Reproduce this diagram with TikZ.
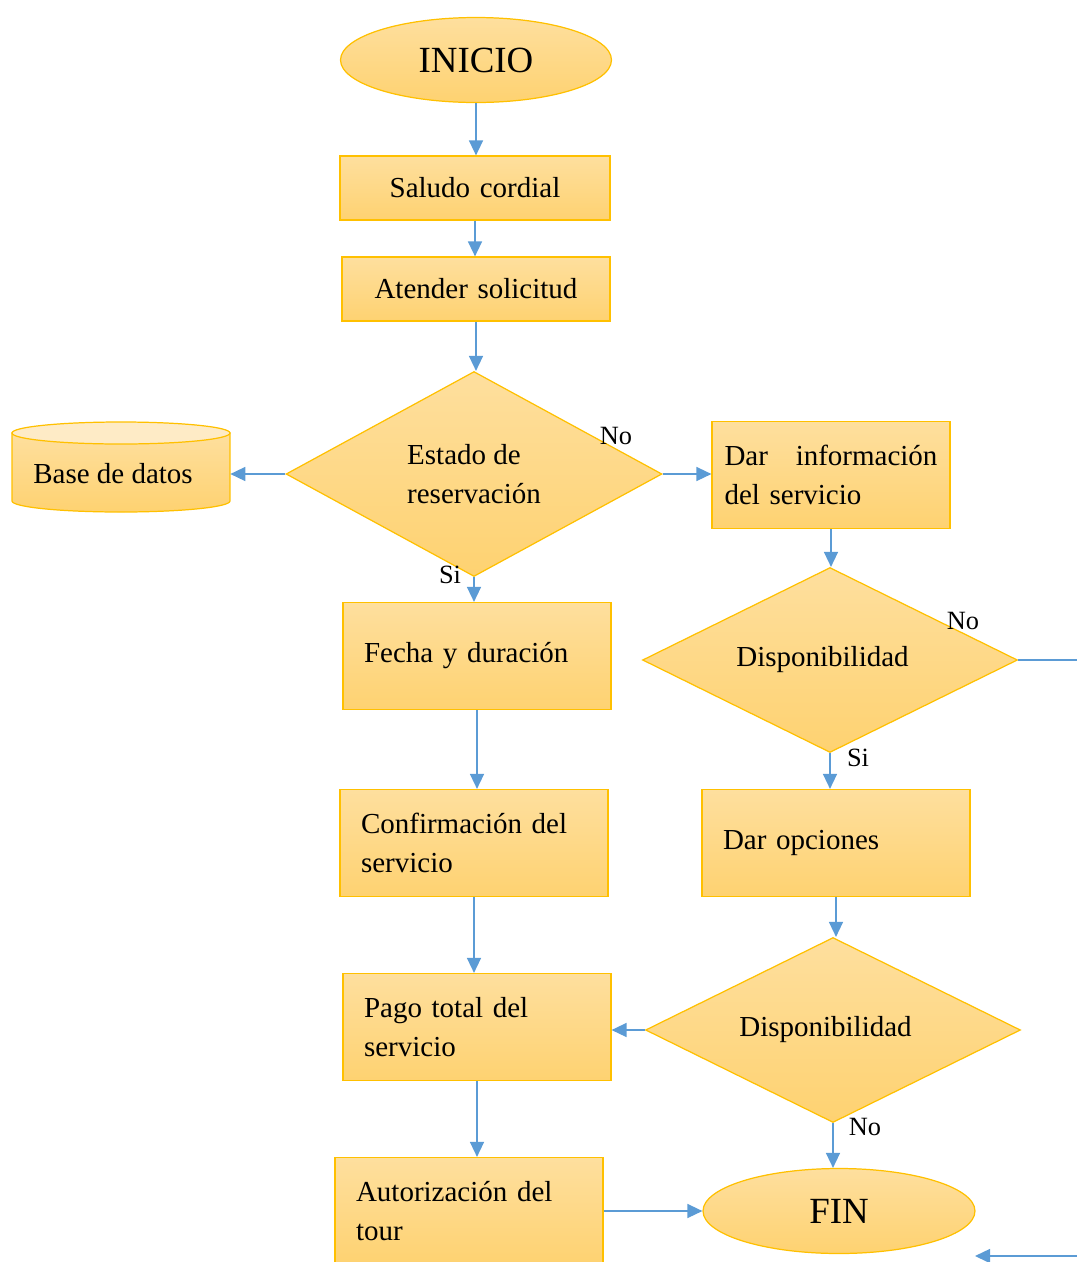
\documentclass[tikz,border=0pt]{standalone}
\usepackage{fontspec}
\setmainfont{Liberation Serif}
\usetikzlibrary{shapes.geometric,arrows.meta,positioning}

\definecolor{borde}{HTML}{FFC000}
\definecolor{rellenoA}{HTML}{FEDF9E}
\definecolor{rellenoB}{HTML}{FED271}
\definecolor{tapa}{HTML}{FEEBC6}
\definecolor{flecha}{HTML}{5B9BD5}

\begin{document}
\begin{tikzpicture}[x=0.02cm,y=-0.02cm,
        caja/.style={draw=borde,line width=0.7pt,top color=rellenoA,bottom color=rellenoB,inner sep=0pt},
        proceso/.style={caja,rectangle,minimum width=5.36cm,minimum height=2.14cm,
            text width=4.52cm,align=left,font=\fontsize{16.5}{22}\selectfont},
        decision/.style={caja,diamond,aspect=2,minimum width=7.5cm,minimum height=3.7cm,
            align=left,font=\fontsize{16.5}{22}\selectfont},
        terminal/.style={caja,ellipse,minimum width=5.42cm,minimum height=1.7cm,
            font=\fontsize{21}{25}\selectfont},
        etiqueta/.style={inner sep=0pt,font=\fontsize{15}{18}\selectfont},
        arr/.style={draw=flecha,line width=0.85pt,-{Triangle[length=0.3cm,width=0.28cm]}},
        linea/.style={draw=flecha,line width=0.85pt}]
    \useasboundingbox (0,0) rectangle (1077,1262);

    % columna izquierda
    \node[terminal] (inicio) at (476,60) {INICIO};
    \node[proceso,minimum width=5.4cm,minimum height=1.28cm,align=center] (saludo) at (475,188) {Saludo cordial};
    \node[proceso,minimum height=1.28cm,align=center] (atender) at (476,289) {Atender solicitud};
    \node[decision,minimum width=7.52cm,minimum height=4.1cm] (estado) at (474,474) {Estado de\\reservación};
    \node[proceso] (fecha) at (477,656) {Fecha y duración};
    \node[proceso] (conf) at (474,843) {Confirmación del\\servicio};
    \node[proceso] (pago) at (477,1027) {Pago total del\\servicio};
    \node[proceso] (autor) at (469,1211) {Autorización del\\tour};

    % base de datos
    \node[minimum width=4.36cm,minimum height=1.8cm,inner sep=0pt] (bd) at (121,467) {};
    \path[caja] (12,433) -- (12,501) arc[start angle=180,end angle=0,x radius=109,y radius=11] -- (230,433) -- cycle;
    \path[draw=borde,line width=0.7pt,fill=tapa] (121,433) ellipse[x radius=109,y radius=11];
    \node[font=\fontsize{16.5}{22}\selectfont] (bdtexto) at (113,474) {Base de datos};

    % columna derecha
    \node[proceso,minimum width=4.76cm,text width=4.26cm] (darinfo) at (831,475) {Dar\hfill información\\del servicio};
    \node[decision] (disp1) at (830,660) {Disponibilidad\hspace*{0.3cm}};
    \node[proceso] (darop) at (836,843) {Dar opciones};
    \node[decision] (disp2) at (833,1030) {Disponibilidad\hspace*{0.3cm}};
    \node[terminal,minimum width=5.44cm] (fin) at (839,1211) {FIN};

    \coordinate (salida) at (1077,660);
    \coordinate (entradaA) at (1077,1256);
    \coordinate (entradaB) at (975,1256);

    % conectores
    \draw[arr] (inicio.south) -- (inicio.south |- saludo.north);
    \draw[arr] (saludo.south) -- (saludo.south |- atender.north);
    \draw[arr] (atender.south) -- (atender.south |- estado.north);
    \draw[arr] (estado.west) -- (estado.west -| bd.east);
    \draw[arr] (estado.east) -- (estado.east -| darinfo.west);
    \draw[arr] (estado.south) -- (estado.south |- fecha.north);
    \draw[arr] (fecha.south) -- (fecha.south |- conf.north);
    \draw[arr] (conf.south) -- (conf.south |- pago.north);
    \draw[arr] (pago.south) -- (pago.south |- autor.north);
    \draw[arr] (autor.east) -- (fin.west);
    \draw[arr] (darinfo.south) -- (darinfo.south |- disp1.north);
    \draw[linea] (disp1.east) -- (salida);
    \draw[arr] (disp1.south) -- (disp1.south |- darop.north);
    \draw[arr] (darop.south) -- (darop.south |- disp2.north);
    \draw[arr] (disp2.west) -- (disp2.west -| pago.east);
    \draw[arr] (disp2.south) -- (disp2.south |- fin.north);
    \draw[arr] (entradaA) -- (entradaB);

    \node[etiqueta] (no1) at (616,436) {No};
    \node[etiqueta] (si1) at (450,575) {Si};
    \node[etiqueta] (no2) at (963,621) {No};
    \node[etiqueta] (si2) at (858,758) {Si};
    \node[etiqueta] (no3) at (865,1127) {No};
\end{tikzpicture}
\end{document}
